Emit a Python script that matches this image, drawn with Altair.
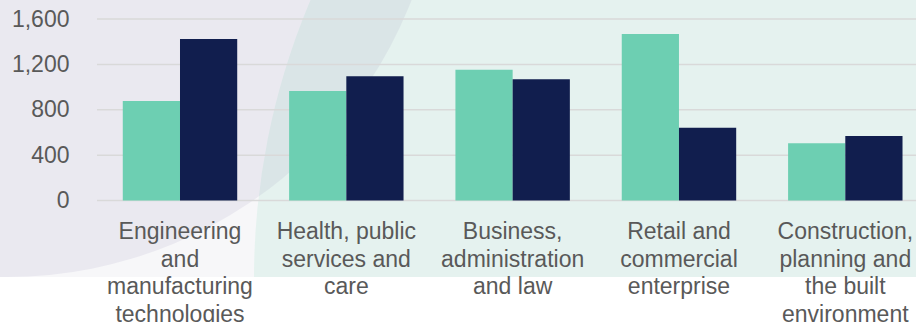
import altair as alt
import pandas as pd

# Category labels (line breaks mark the wrapped axis labels)
categories = [
    "Engineering\nand\nmanufacturing\ntechnologies",
    "Health, public\nservices and\ncare",
    "Business,\nadministration\nand law",
    "Retail and\ncommercial\nenterprise",
    "Construction,\nplanning and\nthe built\nenvironment",
]
series = ["first", "second"]
first_values = [877, 965, 1153, 1468, 504]
second_values = [1424, 1095, 1068, 642, 569]
y_ticks = [0, 400, 800, 1200, 1600]

TEAL = "#6dcfb2"
NAVY = "#111e4e"
GRID = "#d9d9d9"
LABEL = "#595959"
FONT = "Liberation Sans"

# Layout in pixels
LEFT, TOP = 97, 19
PLOT_W, PLOT_H = 819, 181.5
TOTAL_W, TOTAL_H = 916, 322

rows = []
for cat, a, b in zip(categories, first_values, second_values):
    rows.append({"category": cat, "series": series[0], "value": a})
    rows.append({"category": cat, "series": series[1], "value": b})
bars_df = pd.DataFrame(rows)
grid_df = pd.DataFrame({"value": y_ticks})
one = pd.DataFrame({"k": [0]})

y_scale = alt.Scale(domain=[0, 1600], nice=False, zero=True)
y_axis = alt.Axis(
    title=None, values=y_ticks, format=",d", grid=False, domain=False,
    ticks=False, tickSize=0, labelPadding=28,
    labelFont=FONT, labelFontSize=23, labelColor=LABEL, zindex=1,
)

# Decorative backdrop: pale panel, large teal disc, translucent lavender disc
panel = alt.Chart(one).mark_rect(color="#f7f7f9").encode(
    x=alt.value(-LEFT), x2=alt.value(TOTAL_W - LEFT),
    y=alt.value(-TOP), y2=alt.value(277 - TOP),
)
teal_disc = alt.Chart(one).mark_point(
    shape="circle", filled=True, opacity=1, color="#e5f2ef", size=1424 ** 2
).encode(x=alt.value(966 - LEFT), y=alt.value(278 - TOP))
lavender_disc = alt.Chart(one).mark_point(
    shape="circle", filled=True, opacity=0.11, color="#8a81af", size=868 ** 2
).encode(x=alt.value(7 - LEFT), y=alt.value(-157 - TOP))
white_strip = alt.Chart(one).mark_rect(color="white").encode(
    x=alt.value(-LEFT), x2=alt.value(TOTAL_W - LEFT),
    y=alt.value(277 - TOP), y2=alt.value(TOTAL_H - TOP),
)

# Horizontal gridlines
grid = alt.Chart(grid_df).mark_rule(color=GRID, strokeWidth=1.5).encode(
    y=alt.Y("value:Q", scale=y_scale, axis=y_axis),
    x=alt.value(0), x2=alt.value(PLOT_W),
)

bars = alt.Chart(bars_df).mark_bar().encode(
    x=alt.X(
        "category:N",
        sort=categories,
        scale=alt.Scale(domain=categories, range=[0, 831.3],
                        paddingInner=0.312, paddingOuter=0.155),
        axis=alt.Axis(
            title=None, domain=False, ticks=False, tickSize=0, labelAngle=0,
            labelExpr="split(datum.label, '\\n')",
            labelFont=FONT, labelFontSize=23, labelColor=LABEL,
            labelLineHeight=27.5, labelPadding=20, labelBaseline="top",
            labelLimit=0, labelOverlap=False, labelBound=False, labelFlush=False,
            zindex=1,
        ),
    ),
    xOffset=alt.XOffset("series:N", sort=series, scale=alt.Scale(domain=series)),
    y=alt.Y("value:Q", scale=y_scale, axis=y_axis),
    color=alt.Color("series:N", sort=series,
                    scale=alt.Scale(domain=series, range=[TEAL, NAVY]), legend=None),
)

chart = alt.layer(panel, teal_disc, lavender_disc, white_strip, grid, bars).properties(
    width=PLOT_W,
    height=PLOT_H,
    autosize=alt.AutoSizeParams(type="none"),
    padding={"left": LEFT, "top": TOP, "right": TOTAL_W - LEFT - PLOT_W,
             "bottom": TOTAL_H - TOP - PLOT_H},
    background="white",
).configure_view(stroke=None)

chart.save("out.html", embed_options={"renderer": "svg", "actions": False})
